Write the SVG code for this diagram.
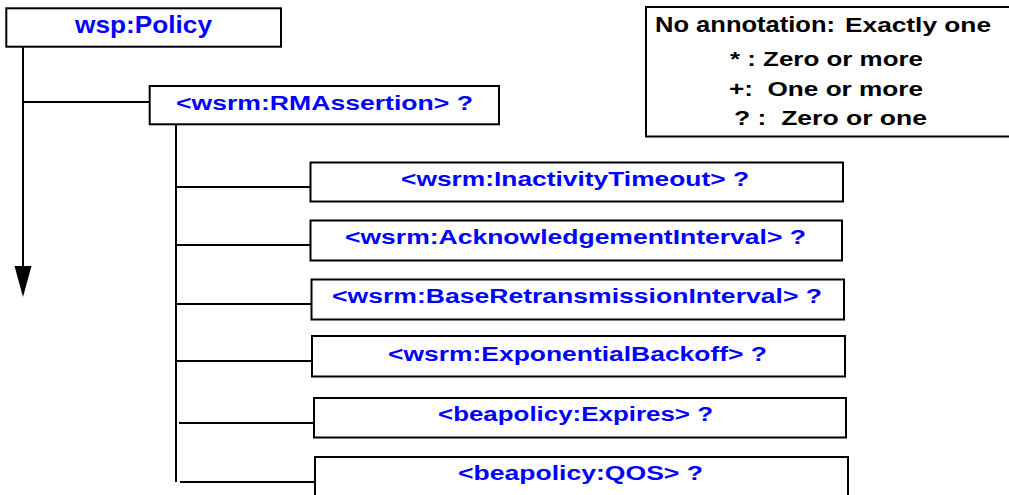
<svg xmlns="http://www.w3.org/2000/svg" width="1009" height="495" viewBox="0 0 1009 495">
<style>
.box{fill:#fff;stroke:#000;stroke-width:2}
.ln{stroke:#000;stroke-width:2;fill:none}
.t{font-family:"Liberation Sans",Arial,sans-serif;font-weight:bold;fill:#0000ff;font-size:20px}
.lg{font-family:"Liberation Sans",Arial,sans-serif;font-weight:bold;fill:#000;font-size:20px;white-space:pre}
</style>
<rect width="1009" height="495" fill="#fff"/>
<g id="connectors">
<line class="ln" x1="23" y1="47" x2="23" y2="268"/>
<polygon points="14.5,266 31.5,266 23,297" fill="#000"/>
<line class="ln" x1="23" y1="102" x2="152" y2="102"/>
<line class="ln" x1="176" y1="125" x2="176" y2="482"/>
<line class="ln" x1="176" y1="187" x2="310" y2="187"/>
<line class="ln" x1="176" y1="245" x2="312" y2="245"/>
<line class="ln" x1="176" y1="304" x2="311" y2="304"/>
<line class="ln" x1="176" y1="361" x2="312" y2="361"/>
<line class="ln" x1="179" y1="423" x2="314" y2="423"/>
<line class="ln" x1="180" y1="482" x2="315" y2="482"/>
</g>
<g id="policy">
<rect class="box" x="6.3" y="8.3" width="274.7" height="38.4"/>
<text class="t" x="75" y="33" style="font-size:24px" textLength="137" lengthAdjust="spacingAndGlyphs">wsp:Policy</text>
</g>
<g id="rmassertion">
<rect class="box" x="149.7" y="86" width="349.3" height="38.3"/>
<text class="t" x="176" y="110" textLength="297" lengthAdjust="spacingAndGlyphs">&lt;wsrm:RMAssertion&gt; ?</text>
</g>
<g id="inactivity">
<rect class="box" x="310.5" y="162.5" width="532.5" height="39"/>
<text class="t" x="401" y="186" textLength="348" lengthAdjust="spacingAndGlyphs">&lt;wsrm:InactivityTimeout&gt; ?</text>
</g>
<g id="ackinterval">
<rect class="box" x="310.5" y="220.5" width="531.5" height="40"/>
<text class="t" x="345" y="244" textLength="461" lengthAdjust="spacingAndGlyphs">&lt;wsrm:AcknowledgementInterval&gt; ?</text>
</g>
<g id="baseretrans">
<rect class="box" x="311.5" y="279.5" width="532.5" height="40"/>
<text class="t" x="332" y="303" textLength="490" lengthAdjust="spacingAndGlyphs">&lt;wsrm:BaseRetransmissionInterval&gt; ?</text>
</g>
<g id="expbackoff">
<rect class="box" x="312" y="336" width="533" height="40.5"/>
<text class="t" x="388" y="361" textLength="379" lengthAdjust="spacingAndGlyphs">&lt;wsrm:ExponentialBackoff&gt; ?</text>
</g>
<g id="expires">
<rect class="box" x="314" y="398" width="532" height="39.5"/>
<text class="t" x="438" y="421" textLength="275" lengthAdjust="spacingAndGlyphs">&lt;beapolicy:Expires&gt; ?</text>
</g>
<g id="qos">
<rect class="box" x="315" y="457" width="533" height="50"/>
<text class="t" x="458" y="480" textLength="245" lengthAdjust="spacingAndGlyphs">&lt;beapolicy:QOS&gt; ?</text>
</g>
<g id="legend">
<rect class="box" x="646" y="7" width="370" height="129.5"/>
<text class="lg" x="655" y="32" style="font-size:22px" textLength="180" lengthAdjust="spacingAndGlyphs">No annotation:</text>
<text class="lg" x="845" y="32" textLength="146" lengthAdjust="spacingAndGlyphs">Exactly one</text>
<text class="lg" x="730" y="65.5" textLength="193" lengthAdjust="spacingAndGlyphs">* : Zero or more</text>
<text class="lg" x="729" y="95.5" textLength="194" lengthAdjust="spacingAndGlyphs">+:  One or more</text>
<text class="lg" x="734" y="125" textLength="193" lengthAdjust="spacingAndGlyphs">? :  Zero or one</text>
</g>
</svg>
